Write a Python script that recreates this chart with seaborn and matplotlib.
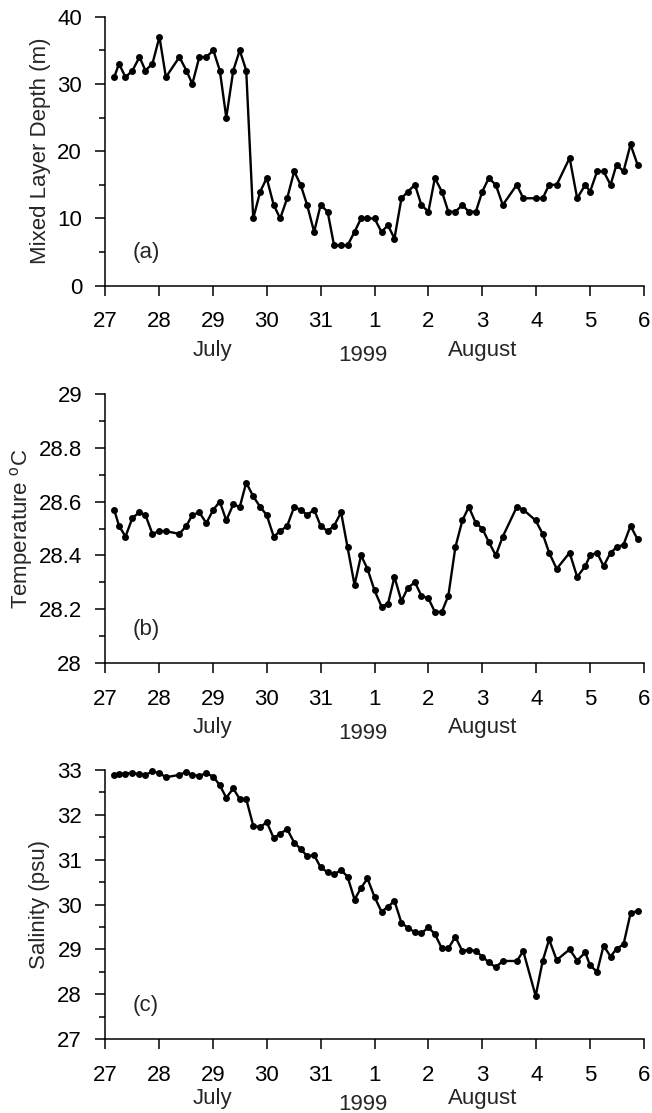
import matplotlib
matplotlib.use("Agg")
import matplotlib.pyplot as plt
import matplotlib.transforms as mtransforms
from matplotlib.ticker import MultipleLocator, FixedLocator
import numpy as np
import pandas as pd
import seaborn as sns

# Sampling times, in days since 27 July 1999 00:00
days = [0.17, 0.26, 0.38, 0.51, 0.64, 0.75, 0.88, 1.01, 1.13, 1.38,
        1.51, 1.62, 1.75, 1.88, 2.01, 2.13, 2.25, 2.38, 2.50, 2.62,
        2.75, 2.88, 3.00, 3.13, 3.25, 3.38, 3.51, 3.63, 3.75, 3.88,
        4.00, 4.13, 4.25, 4.38, 4.50, 4.63, 4.75, 4.87, 5.00, 5.13,
        5.25, 5.37, 5.50, 5.62, 5.75, 5.87, 6.00, 6.12, 6.25, 6.37,
        6.50, 6.63, 6.75, 6.88, 7.00, 7.12, 7.25, 7.38, 7.64, 7.76,
        7.99, 8.12, 8.24, 8.38, 8.62, 8.76, 8.91, 9.00, 9.13, 9.25,
        9.38, 9.49, 9.62, 9.75, 9.88]

# Mixed layer depth (m)
mld = [31, 33, 31, 32, 34, 32, 33, 37, 31, 34,
       32, 30, 34, 34, 35, 32, 25, 32, 35, 32,
       10, 14, 16, 12, 10, 13, 17, 15, 12, 8,
       12, 11, 6, 6, 6, 8, 10, 10, 10, 8,
       9, 7, 13, 14, 15, 12, 11, 16, 14, 11,
       11, 12, 11, 11, 14, 16, 15, 12, 15, 13,
       13, 13, 15, 15, 19, 13, 15, 14, 17, 17,
       15, 18, 17, 21, 18]

# Mixed layer temperature (deg C)
temperature = [28.57, 28.51, 28.47, 28.54, 28.56, 28.55, 28.48, 28.49, 28.49, 28.48,
               28.51, 28.55, 28.56, 28.52, 28.57, 28.60, 28.53, 28.59, 28.58, 28.67,
               28.62, 28.58, 28.55, 28.47, 28.49, 28.51, 28.58, 28.57, 28.55, 28.57,
               28.51, 28.49, 28.51, 28.56, 28.43, 28.29, 28.40, 28.35, 28.27, 28.21,
               28.22, 28.32, 28.23, 28.28, 28.30, 28.25, 28.24, 28.19, 28.19, 28.25,
               28.43, 28.53, 28.58, 28.52, 28.50, 28.45, 28.40, 28.47, 28.58, 28.57,
               28.53, 28.48, 28.41, 28.35, 28.41, 28.32, 28.36, 28.40, 28.41, 28.36,
               28.41, 28.43, 28.44, 28.51, 28.46]

# Mixed layer salinity (psu)
salinity = [32.89, 32.91, 32.92, 32.94, 32.90, 32.89, 32.97, 32.93, 32.84, 32.89,
            32.96, 32.89, 32.87, 32.93, 32.85, 32.66, 32.38, 32.59, 32.35, 32.35,
            31.76, 31.72, 31.84, 31.48, 31.58, 31.68, 31.38, 31.24, 31.08, 31.10,
            30.83, 30.72, 30.67, 30.77, 30.62, 30.11, 30.37, 30.58, 30.17, 29.84,
            29.95, 30.08, 29.59, 29.48, 29.38, 29.36, 29.49, 29.34, 29.02, 29.02,
            29.28, 28.96, 28.99, 28.96, 28.84, 28.71, 28.60, 28.74, 28.74, 28.96,
            27.96, 28.74, 29.22, 28.76, 29.00, 28.75, 28.93, 28.64, 28.50, 29.08,
            28.84, 29.01, 29.11, 29.80, 29.86]

day_ticks = list(range(11))
day_labels = ["27", "28", "29", "30", "31", "1", "2", "3", "4", "5", "6"]
# (text, x position in days, drop below the month row in points)
month_labels = [("July", 2.0, 0.0), ("1999", 4.78, 4.0), ("August", 7.0, 0.0)]

panels = [
    dict(y=mld, label="Mixed Layer Depth (m)", tag="(a)",
         lim=(0, 40), major=10, minor=5, fmt=lambda v: f"{v:.0f}",
         label_x=-0.100, row=-0.240),
    dict(y=temperature, label="Temperature $^{\\mathrm{o}}$C", tag="(b)",
         lim=(28, 29), major=0.2, minor=0.1,
         fmt=lambda v: f"{v:.1f}".rstrip("0").rstrip("."),
         label_x=-0.129, row=-0.240),
    dict(y=salinity, label="Salinity (psu)", tag="(c)",
         lim=(27, 33), major=1, minor=0.5, fmt=lambda v: f"{v:.0f}",
         label_x=-0.102, row=-0.222),
]

sns.set_style("ticks")
plt.rcParams["font.family"] = ["Liberation Sans", "DejaVu Sans"]
plt.rcParams["mathtext.fontset"] = "custom"
plt.rcParams["mathtext.rm"] = "Liberation Sans"
plt.rcParams["mathtext.it"] = "Liberation Sans:italic"

FS = 16
fig = plt.figure(figsize=(6.52, 11.13), dpi=100)
W, H = 652, 1113
tops = [16.7, 394.0, 770.0]
left_px, right_px, height_px = 105, 644, 269

for spec, top in zip(panels, tops):
    ax = fig.add_axes([left_px / W, 1 - (top + height_px) / H,
                       (right_px - left_px) / W, height_px / H])
    df = pd.DataFrame({"day": days, "value": spec["y"]})
    sns.lineplot(data=df, x="day", y="value", ax=ax, color="black",
                 linewidth=1.7, marker="o", markersize=5.0,
                 markeredgecolor="black", markerfacecolor="black",
                 markeredgewidth=0, clip_on=False)

    ax.set_xlim(0, 10)
    ax.set_ylim(*spec["lim"])
    ax.xaxis.set_major_locator(FixedLocator(day_ticks))
    ax.set_xticklabels(day_labels)
    lo, hi = spec["lim"]
    yt = np.arange(lo, hi + spec["major"] / 2, spec["major"])
    ax.set_yticks(yt)
    ax.set_yticklabels([spec["fmt"](v) for v in yt])
    ax.yaxis.set_minor_locator(MultipleLocator(spec["minor"]))

    for s in ("top", "right"):
        ax.spines[s].set_visible(False)
    for s in ("left", "bottom"):
        ax.spines[s].set_linewidth(1.1)
        ax.spines[s].set_color("black")

    ax.tick_params(axis="both", which="major", direction="out", length=7,
                   width=1.1, color="black", labelsize=FS, labelcolor="black")
    ax.tick_params(axis="y", which="major", pad=9.5)
    ax.tick_params(axis="x", which="major", pad=11.5)
    ax.tick_params(axis="y", which="minor", direction="out", length=4,
                   width=1.1, color="black")

    ax.set_xlabel("")
    ax.set_ylabel(spec["label"], fontsize=FS)
    ax.yaxis.set_label_coords(spec["label_x"], 0.5)

    ax.text(0.076, 0.125, spec["tag"], transform=ax.transAxes,
            ha="center", va="center", fontsize=FS)

    trans = mtransforms.blended_transform_factory(ax.transData, ax.transAxes)
    for text, xpos, drop in month_labels:
        t = trans + mtransforms.ScaledTranslation(0, -drop / 72, fig.dpi_scale_trans)
        ax.text(xpos, spec["row"], text, transform=t,
                ha="center", va="center", fontsize=FS)

fig.savefig("out.png", dpi=100, facecolor="white")
